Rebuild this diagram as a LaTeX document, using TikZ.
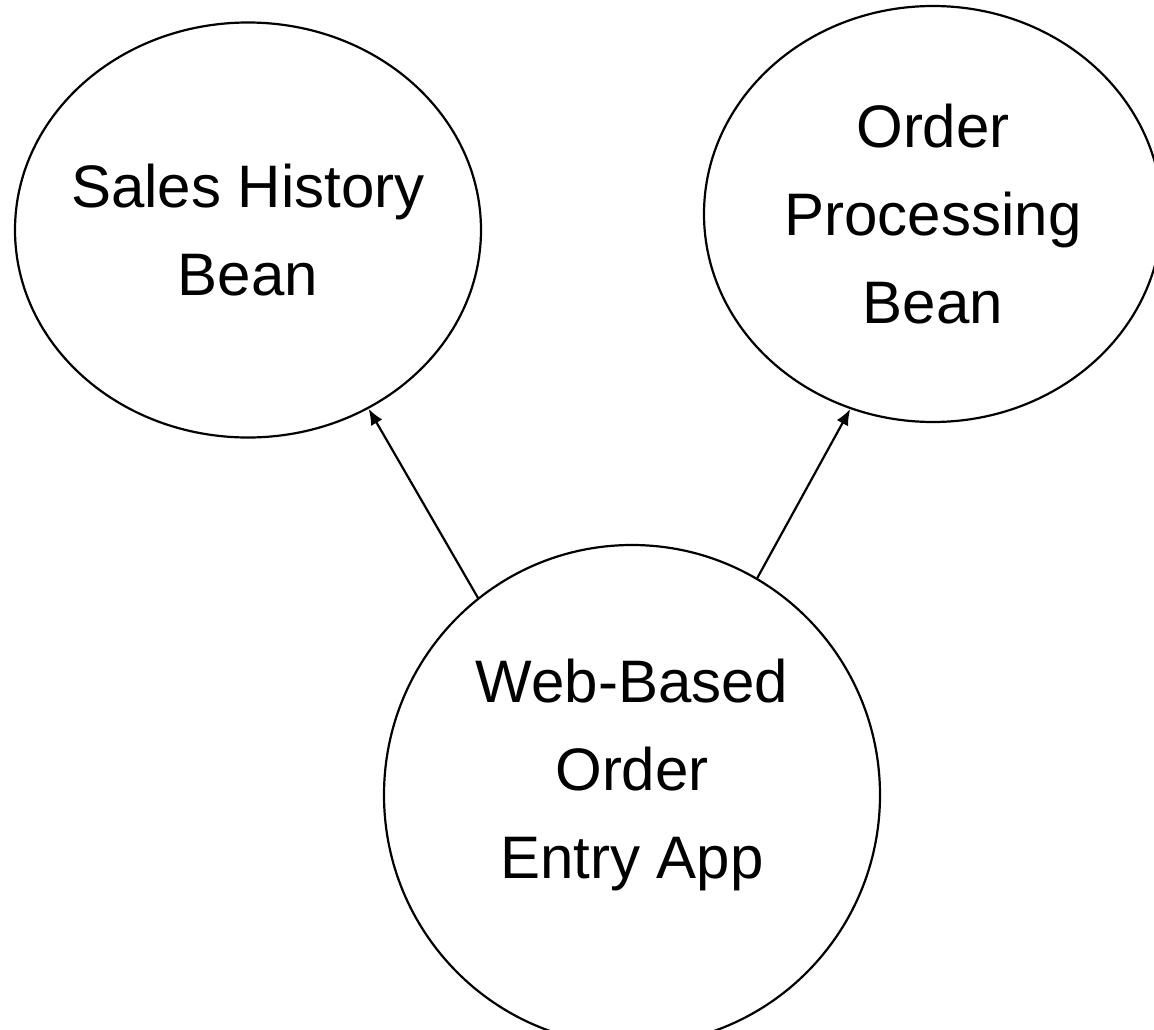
\documentclass[tikz,border=0pt]{standalone}
\usepackage{fontspec}
\setmainfont{Liberation Sans}
\usetikzlibrary{arrows.meta,shapes.geometric}

\begin{document}
\begin{tikzpicture}[
		x=1pt,y=-1pt,
		bean/.style={draw,ellipse,line width=2.2pt,inner ysep=0pt,inner xsep=-60pt,
			align=center,font=\fontsize{60}{88}\selectfont},
		arrow/.style={-{Latex[length=16pt,width=13pt]},line width=2.2pt}
		]
		\useasboundingbox (0,0) rectangle (1154,1030);
		% manual positions
		\node[bean,minimum width=466pt,minimum height=415pt] (sales) at (248,230)
		{Sales History\\Bean};
		\node[bean,minimum width=458pt,minimum height=416pt] (order) at (933,214)
		{Order\\Processing\\Bean};
		\node[bean,minimum width=496pt,minimum height=500pt,text depth=52pt] (web) at (632,795)
		{Web-Based\\Order\\Entry App};
		
		% arrows
		\draw[arrow] (web.128.3) -- (sales.-56);
		\draw[arrow] (web.60.8) -- (order.-113.9);
	\end{tikzpicture}
\end{document}
